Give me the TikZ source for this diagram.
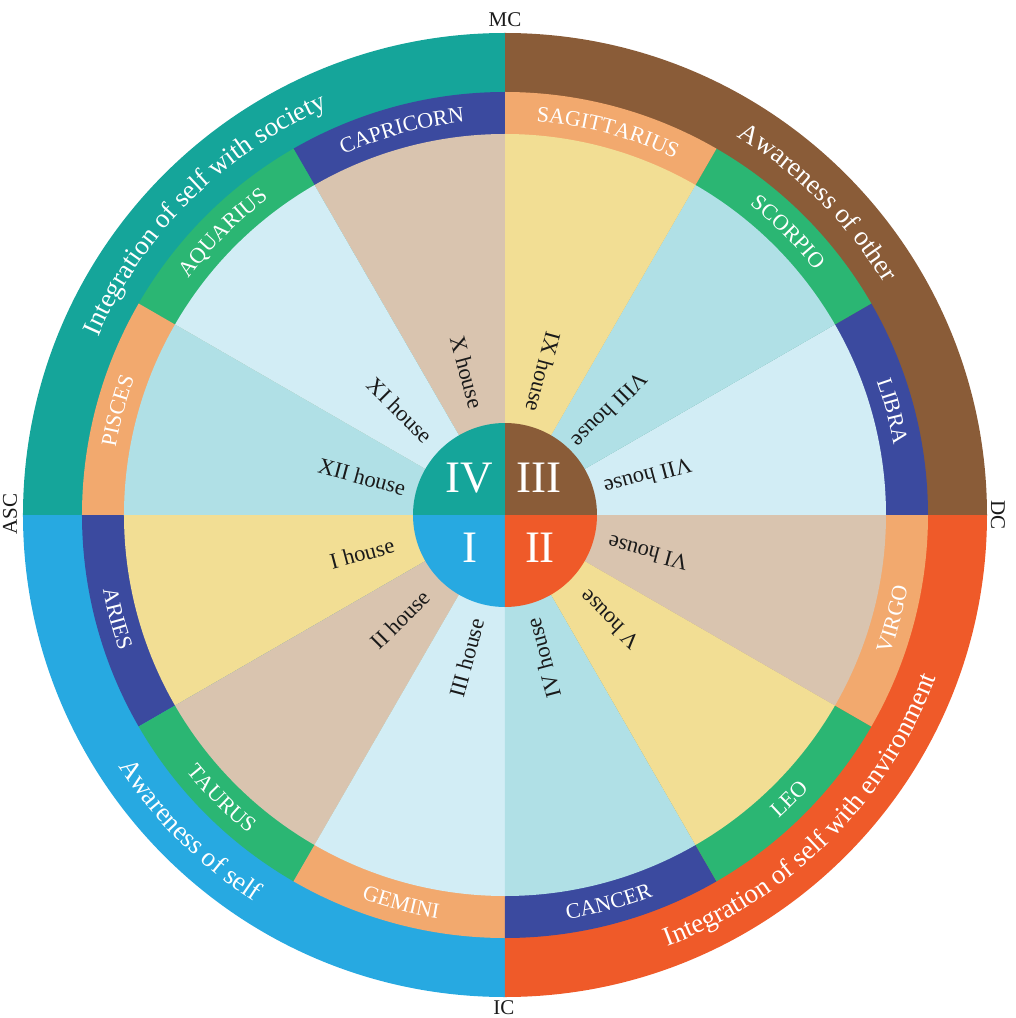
\documentclass[tikz,border=0pt]{standalone}
\usepackage{fontspec}
\setmainfont{Liberation Serif}
\usetikzlibrary{decorations.text}
\definecolor{qteal}{HTML}{15A59A}
\definecolor{qbrown}{HTML}{8A5C38}
\definecolor{qorange}{HTML}{EF5A29}
\definecolor{qblue}{HTML}{27A9E1}
\definecolor{sdblue}{HTML}{3B4A9F}
\definecolor{sgreen}{HTML}{2BB673}
\definecolor{slorange}{HTML}{F2A96E}
\definecolor{hyel}{HTML}{F2DE94}
\definecolor{htan}{HTML}{D9C4AF}
\definecolor{hlb}{HTML}{D2EDF5}
\definecolor{hlt}{HTML}{B0E0E6}
\definecolor{ink}{HTML}{1A1A1A}
\tikzset{
  hlabel/.style={font=\fontsize{22.5}{22.5}\selectfont, text=ink, inner sep=0pt},
  axislabel/.style={font=\fontsize{21}{21}\selectfont, text=ink, inner sep=0pt},
  roman/.style={font=\fontsize{45}{45}\selectfont, text=white, inner sep=0pt},
  signtext/.style={decorate, decoration={text along path, text align=center, text color=white,
      text={|\fontsize{22}{22}\selectfont|#1}}},
  quadtext/.style={decorate, decoration={text along path, text align=center, text color=white,
      text={|\fontsize{27}{27}\selectfont|#1}}}
}
\begin{document}
\begin{tikzpicture}[x=1pt,y=1pt]
\useasboundingbox (-505,-503) rectangle (511,515);
% outer quadrant ring
\foreach \s/\c in {0/qbrown, 90/qteal, 180/qblue, 270/qorange}{
  \fill[\c] (0,0) -- (\s:482pt) arc[start angle=\s, end angle=\s+90, radius=482pt] -- cycle;
}
% sign ring
\foreach \s/\c in {0/sdblue, 30/sgreen, 60/slorange, 90/sdblue, 120/sgreen, 150/slorange,
                   180/sdblue, 210/sgreen, 240/slorange, 270/sdblue, 300/sgreen, 330/slorange}{
  \fill[\c] (0,0) -- (\s:423pt) arc[start angle=\s, end angle=\s+30, radius=423pt] -- cycle;
}
% houses
\foreach \s/\c in {0/hlb, 30/hlt, 60/hyel, 90/htan, 120/hlb, 150/hlt,
                   180/hyel, 210/htan, 240/hlb, 270/hlt, 300/hyel, 330/htan}{
  \fill[\c] (0,0) -- (\s:381pt) arc[start angle=\s, end angle=\s+30, radius=381pt] -- cycle;
}
% centre circle
\foreach \s/\c in {0/qbrown, 90/qteal, 180/qblue, 270/qorange}{
  \fill[\c] (0,0) -- (\s:92pt) arc[start angle=\s, end angle=\s+90, radius=92pt] -- cycle;
}
\node[roman] (nIV) at (-35.5,37) {IV};
\node[roman] (nIII) at (34,37) {III};
\node[roman] (nI) at (-35,-32.5) {I};
\node[roman] (nII) at (35,-32.5) {II};
% house labels
\foreach \a/\t [count=\k] in {15/VII house, 45/VIII house, 75/IX house, 105/X house,
    135/XI house, 165/XII house, 195/I house, 225/II house, 255/III house,
    285/IV house, 315/V house, 345/VI house}{
  \node[hlabel, rotate=\a+180] (house\k) at (\a:148pt) {\t};
}
% sign labels, top half (clockwise)
\foreach \s/\t in {0/LIBRA, 30/SCORPIO, 60/SAGITTARIUS, 90/CAPRICORN, 120/AQUARIUS, 150/PISCES}{
  \path[signtext=\t] (\s+30:395pt) arc[start angle=\s+30, end angle=\s, radius=395pt];
}
% sign labels, bottom half (counter-clockwise)
\foreach \s/\t in {180/ARIES, 210/TAURUS, 240/GEMINI, 270/CANCER, 300/LEO, 330/VIRGO}{
  \path[signtext=\t] (\s:409pt) arc[start angle=\s, end angle=\s+30, radius=409pt];
}
% quadrant texts
\path[quadtext={Integration of self with society}] (180:444pt) arc[start angle=180, end angle=90, radius=444pt];
\path[quadtext={Awareness of other}] (90:444pt) arc[start angle=90, end angle=0, radius=444pt];
\path[quadtext={Awareness of self}] (180:461pt) arc[start angle=180, end angle=270, radius=461pt];
\path[quadtext={Integration of self with environment}] (270:461pt) arc[start angle=270, end angle=360, radius=461pt];
% axis labels
\node[axislabel] (mc) at (0,495) {MC};
\node[axislabel] (ic) at (-1,-493) {IC};
\node[axislabel, rotate=90] (asc) at (-495,1) {ASC};
\node[axislabel, rotate=-90] (dc) at (493,0) {DC};
\end{tikzpicture}
\end{document}
